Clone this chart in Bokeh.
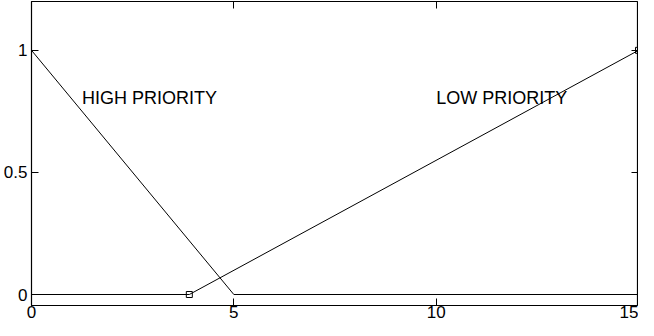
from bokeh.plotting import figure
from bokeh.models import LinearAxis, FixedTicker, Range1d, Label, CustomLabelingPolicy
from bokeh.embed import file_html
from bokeh.resources import INLINE

# data
high_x = [0, 5, 15]
high_y = [1, 0, 0]
low_x = [0, 3.9, 15]
low_y = [0, 0, 1]
marker_x = [3.9, 15]
marker_y = [0, 1]
x_ticks = [0, 5, 10, 15]
y_ticks = [0, 0.5, 1]
labels = ["HIGH PRIORITY", "LOW PRIORITY"]
label_x = [1.25, 10.0]
label_y = [0.803, 0.803]

FONT = "Liberation Sans"

p = figure(width=638, height=320, output_backend="svg", toolbar_location=None,
           x_range=Range1d(0, 15), y_range=Range1d(-0.045, 1.2),
           min_border_left=28, min_border_right=0, min_border_top=1,
           min_border_bottom=0, x_axis_location=None, y_axis_location=None)
p.background_fill_color = "white"
p.border_fill_color = "white"
p.outline_line_color = "black"
p.outline_line_width = 1.2
p.xgrid.visible = False
p.ygrid.visible = False

hide = CustomLabelingPolicy(code="for (const i of [...indices]) { indices.unset(i) }; return indices")

def style(ax, ticks, show_labels):
    ax.ticker = FixedTicker(ticks=ticks)
    ax.major_tick_in = 7
    ax.major_tick_out = 0
    ax.minor_tick_in = 0
    ax.minor_tick_out = 0
    ax.major_tick_line_color = "black"
    ax.major_tick_line_width = 1
    ax.axis_line_color = None
    if show_labels:
        ax.major_label_text_font = FONT
        ax.major_label_text_font_size = "17px"
        ax.major_label_text_color = "black"
    else:
        ax.major_label_policy = hide
        ax.major_label_text_font_size = "1px"
        ax.major_label_overrides = {t: "" for t in ticks}
        ax.major_label_standoff = 0

xb = LinearAxis()
style(xb, x_ticks, True)
xb.major_label_standoff = 0
xb.major_label_overrides = {0: "0", 5: "5", 10: "10", 15: "15"}
p.add_layout(xb, "below")
xt = LinearAxis()
style(xt, x_ticks, False)
p.add_layout(xt, "above")
yl = LinearAxis()
style(yl, y_ticks, True)
yl.major_label_standoff = 4
yl.major_label_overrides = {0: "0", 0.5: "0.5", 1: "1"}
p.add_layout(yl, "left")
yr = LinearAxis()
style(yr, y_ticks, False)
p.add_layout(yr, "right")

p.line(high_x, high_y, line_color="black", line_width=1)
p.line(low_x, low_y, line_color="black", line_width=1)
p.scatter(marker_x, marker_y, marker="square", size=6, fill_color=None,
          line_color="black", line_width=1)

for t, lx, ly in zip(labels, label_x, label_y):
    p.add_layout(Label(x=lx, y=ly, text=t, text_font=FONT, text_font_size="18px",
                       text_color="black", text_baseline="alphabetic"))

open("out.html", "w").write(file_html(p, INLINE))
